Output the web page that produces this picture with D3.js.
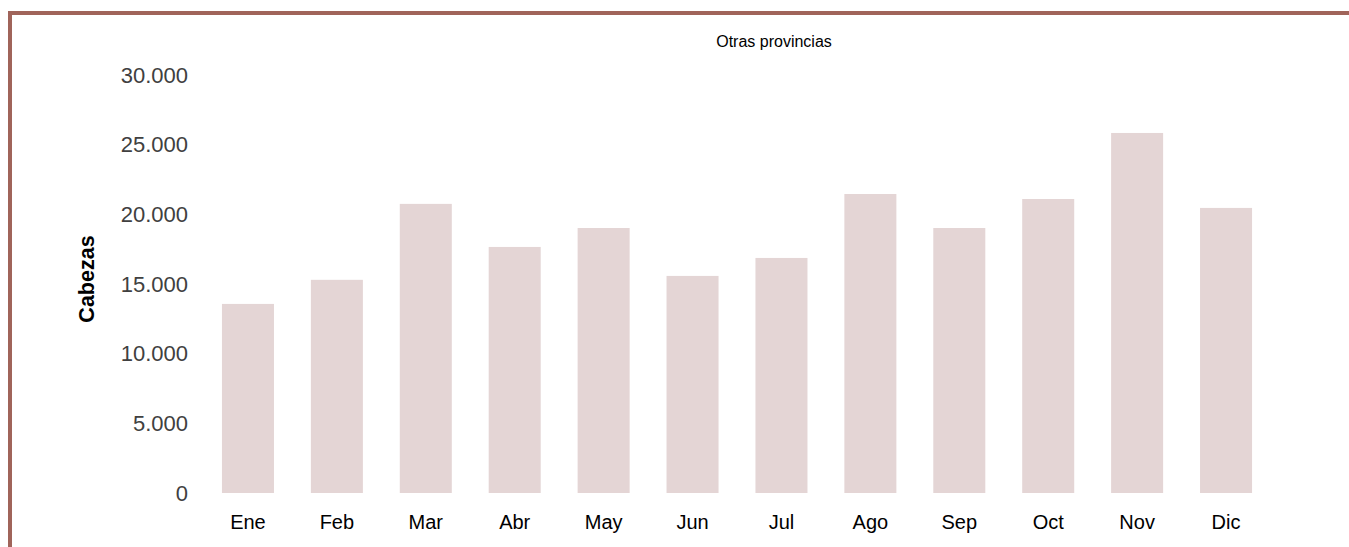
<!DOCTYPE html>
<html>
<head>
<meta charset="utf-8">
<script src="https://cdn.jsdelivr.net/npm/d3@7"></script>
<style>
  html, body { margin: 0; padding: 0; background: #ffffff; }
  svg { display: block; font-family: "Liberation Sans", Arial, sans-serif; }
</style>
</head>
<body>
<svg id="chart" width="1349" height="547"></svg>
<script>
const months = ["Ene","Feb","Mar","Abr","May","Jun","Jul","Ago","Sep","Oct","Nov","Dic"];
const values = [13570, 15300, 20750, 17660, 19020, 15580, 16870, 21460, 19020, 21100, 25840, 20460];
const yTicks = [0, 5000, 10000, 15000, 20000, 25000, 30000];
const title = "Otras provincias";
const yLabel = "Cabezas";

const svg = d3.select("#chart");
const W = 1349, H = 547;

// frame
svg.append("rect").attr("x", 0).attr("y", 0).attr("width", W).attr("height", H).attr("fill", "#fff");
svg.append("line").attr("x1", 8).attr("x2", W).attr("y1", 13).attr("y2", 13)
  .attr("stroke", "#a0645a").attr("stroke-width", 4);
svg.append("line").attr("x1", 10).attr("x2", 10).attr("y1", 11).attr("y2", H)
  .attr("stroke", "#a0645a").attr("stroke-width", 4);

const x = d3.scaleBand().domain(months).range([203.5, 1270.5]).paddingInner(0.415).paddingOuter(0.2075);
const y = d3.scaleLinear().domain([0, 30000]).range([493, 75]);

const fmt = v => d3.format(",")(v).replace(/,/g, ".");

// bars
svg.append("g").selectAll("rect").data(values).join("rect")
  .attr("x", (d, i) => x(months[i]))
  .attr("width", x.bandwidth())
  .attr("y", d => y(d))
  .attr("height", d => y(0) - y(d))
  .attr("fill", "#e4d5d5");

// y axis
const yAxis = d3.axisLeft(y).tickValues(yTicks).tickFormat(fmt).tickSize(0).tickPadding(0);
const gy = svg.append("g").attr("transform", "translate(188,0)").call(yAxis);
gy.select(".domain").remove();
gy.selectAll("text").attr("font-size", 22).attr("fill", "#404040")
  .attr("font-family", "Liberation Sans, Arial, sans-serif");

// x axis
const xAxis = d3.axisBottom(x).tickSize(0).tickPadding(0);
const gx = svg.append("g").attr("transform", "translate(0,515)").call(xAxis);
gx.select(".domain").remove();
gx.selectAll("text").attr("font-size", 20).attr("fill", "#000")
  .attr("font-family", "Liberation Sans, Arial, sans-serif");

// title
svg.append("text").attr("x", 774).attr("y", 47).attr("text-anchor", "middle")
  .attr("font-size", 16).attr("fill", "#000").text(title);

// y label
svg.append("text").attr("transform", "translate(94,279) rotate(-90)")
  .attr("text-anchor", "middle").attr("font-size", 21.5).attr("font-weight", "bold")
  .attr("fill", "#000").text(yLabel);
</script>
</body>
</html>
